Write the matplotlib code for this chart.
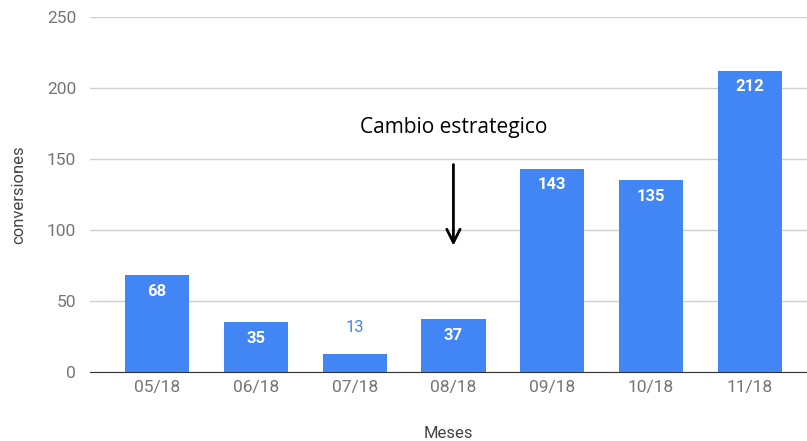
import matplotlib.pyplot as plt
import numpy as np

months = ["05/18", "06/18", "07/18", "08/18", "09/18", "10/18", "11/18"]
conversions = [68, 35, 13, 37, 143, 135, 212]

BLUE = "#4285f4"
GREY = "#757575"

plt.rcParams["font.family"] = ["Roboto", "DejaVu Sans"]

fig = plt.figure(figsize=(8.07, 4.41), dpi=100)
ax = fig.add_axes([0.1115, 0.1565, 0.8885, 0.805])

x = np.arange(len(months))
bars = ax.bar(x, conversions, width=0.65, color=BLUE, zorder=2)

# values inside tall bars, above the short ones
for xi, v in zip(x, conversions):
    if v >= 25:
        ax.annotate(str(v), (xi, v), xytext=(0, -6), textcoords="offset points",
                    ha="center", va="top", color="white", fontsize=12,
                    fontweight="bold", zorder=3)
    else:
        ax.annotate(str(v), (xi, v), xytext=(0, 13), textcoords="offset points",
                    ha="center", va="bottom", color=BLUE, fontsize=12, zorder=3)

ax.set_xlim(-0.68, 6.58)
ax.set_ylim(0, 250)
ax.set_yticks(np.arange(0, 251, 50))
ax.set_xticks(x)
ax.set_xticklabels(months)

ax.grid(axis="y", color="#d0d0d0", linewidth=1, zorder=0)
for side in ["top", "right", "left"]:
    ax.spines[side].set_visible(False)
ax.spines["bottom"].set_color("#333333")
ax.spines["bottom"].set_zorder(4)
ax.tick_params(axis="both", length=0, colors=GREY, labelsize=12.5)
ax.tick_params(axis="y", pad=10)
ax.tick_params(axis="x", pad=6)

ax.set_ylabel("conversiones", color="#444444", fontsize=12, labelpad=15)
ax.set_xlabel("Meses", color="#444444", fontsize=12, labelpad=22)

# strategy change marker
ax.text(3.0, 172, "Cambio estrategico", ha="center", va="center",
        fontsize=15, color="black", family=["Open Sans", "DejaVu Sans"])
ax.annotate("", xy=(3.0, 87), xytext=(3.0, 148),
            arrowprops=dict(arrowstyle="->", color="black", lw=2,
                            mutation_scale=24))

fig.savefig("out.png", dpi=100)
